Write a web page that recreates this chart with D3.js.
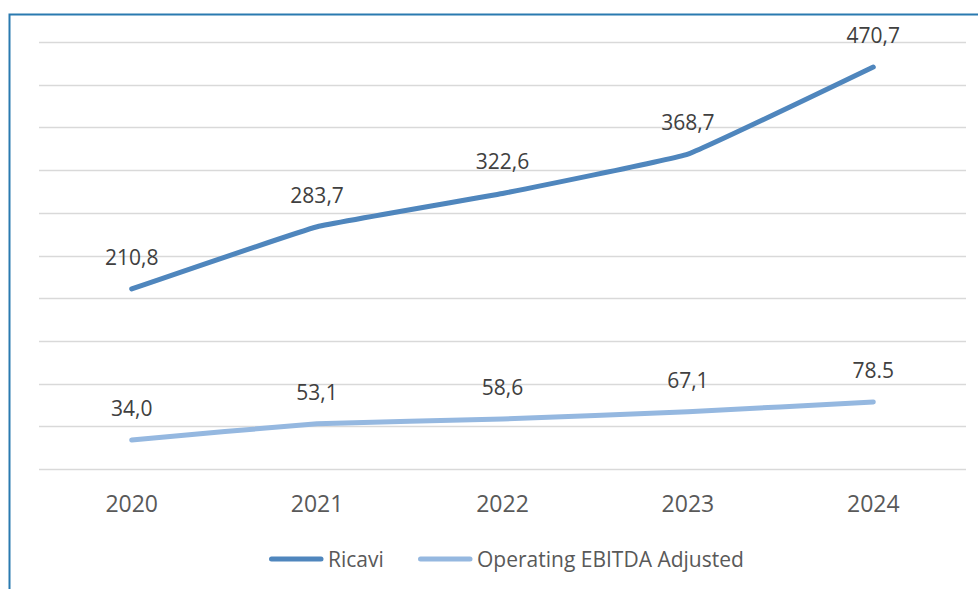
<!DOCTYPE html>
<html>
<head>
<meta charset="utf-8">
<script src="https://cdn.jsdelivr.net/npm/d3@7"></script>
<style>
  body { margin: 0; background: #fff; }
  svg { display: block; font-family: "Open Sans", "Noto Sans", sans-serif; }
</style>
</head>
<body>
<div id="chart"></div>
<script>
var years = ['2020', '2021', '2022', '2023', '2024'];
var ricavi = [210.8, 283.7, 322.6, 368.7, 470.7];
var ebitda = [34.0, 53.1, 58.6, 67.1, 78.5];
var ricaviLabels = ['210,8', '283,7', '322,6', '368,7', '470,7'];
var ebitdaLabels = ['34,0', '53,1', '58,6', '67,1', '78.5'];
var seriesNames = ['Ricavi', 'Operating EBITDA Adjusted'];
var yTicks = d3.range(0, 501, 50);

var width = 978, height = 589;
var margin = {top: 42, right: 12, bottom: 120, left: 39};

var svg = d3.select('#chart').append('svg')
  .attr('width', width)
  .attr('height', height);

// frame (cut off at right and bottom like the source)
svg.append('path')
  .attr('d', 'M9.5,' + height + 'V14.5H' + width)
  .attr('fill', 'none')
  .attr('stroke', '#2a7ab0')
  .attr('stroke-width', 2);

var x = d3.scaleBand()
  .domain(years)
  .range([margin.left, width - margin.right]);

var y = d3.scaleLinear()
  .domain([0, 500])
  .range([height - margin.bottom, margin.top]);

// gridlines
svg.append('g')
  .selectAll('line')
  .data(yTicks)
  .enter()
  .append('line')
  .attr('x1', margin.left)
  .attr('x2', width - margin.right)
  .attr('y1', function(d){ return Math.round(y(d)) + 0.5; })
  .attr('y2', function(d){ return Math.round(y(d)) + 0.5; })
  .attr('stroke', '#d9d9d9')
  .attr('stroke-width', 1.5);

// x axis labels
svg.append('g')
  .selectAll('text')
  .data(years)
  .enter()
  .append('text')
  .attr('x', function(d){ return x(d) + x.bandwidth() / 2; })
  .attr('y', 512)
  .attr('text-anchor', 'middle')
  .attr('font-size', 23)
  .attr('fill', '#595959')
  .text(function(d){ return d; });

var line = d3.line()
  .x(function(d, i){ return x(years[i]) + x.bandwidth() / 2; })
  .y(function(d){ return y(d); })
  .curve(d3.curveCardinal.tension(0.75));

var series = [
  {name: seriesNames[0], values: ricavi, labels: ricaviLabels, color: '#4f86bd'},
  {name: seriesNames[1], values: ebitda, labels: ebitdaLabels, color: '#95b8e0'}
];

series.forEach(function(s){
  svg.append('path')
    .datum(s.values)
    .attr('d', line)
    .attr('fill', 'none')
    .attr('stroke', s.color)
    .attr('stroke-width', 5)
    .attr('stroke-linecap', 'round')
    .attr('stroke-linejoin', 'round');

  svg.append('g')
    .selectAll('text')
    .data(s.values)
    .enter()
    .append('text')
    .attr('x', function(d, i){ return x(years[i]) + x.bandwidth() / 2; })
    .attr('y', function(d){ return y(d) - 24; })
    .attr('text-anchor', 'middle')
    .attr('font-size', 21)
    .attr('fill', '#404040')
    .text(function(d, i){ return s.labels[i]; });
});

// legend
var legendPos = [269, 418];
var legend = svg.append('g')
  .selectAll('g')
  .data(series)
  .enter()
  .append('g')
  .attr('transform', function(d, i){ return 'translate(' + legendPos[i] + ',559)'; });

legend.append('line')
  .attr('x1', 2.5)
  .attr('x2', 52)
  .attr('stroke', function(d){ return d.color; })
  .attr('stroke-width', 5)
  .attr('stroke-linecap', 'round');

legend.append('text')
  .attr('x', 59)
  .attr('y', 7.5)
  .attr('font-size', 21)
  .attr('fill', '#595959')
  .text(function(d){ return d.name; });
</script>
</body>
</html>
